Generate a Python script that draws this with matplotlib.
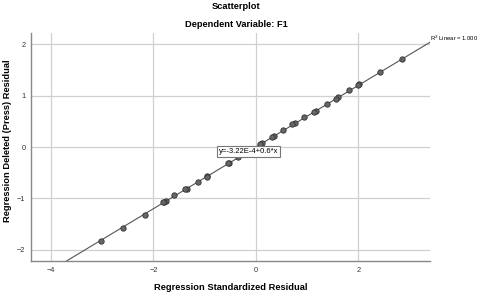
import numpy as np
import matplotlib
matplotlib.use('Agg')
from matplotlib import pyplot as plt

plt.rcParams['font.family'] = ['Liberation Sans', 'DejaVu Sans']

# Regression Standardized Residual (x) vs Regression Deleted (Press) Residual (y)
std_resid = [2.86, 2.43, 2.02, 2.00, 1.82, 1.61, 1.56, 1.38, 1.17, 1.14, 0.94,
             0.76, 0.71, 0.53, 0.35, 0.31, 0.12, 0.08, -0.34, -0.53, -0.54,
             -0.95, -0.96, -1.13, -1.35, -1.38, -1.59, -1.76, -1.80, -1.82,
             -2.17, -2.59, -3.02]
press_resid = [1.72, 1.46, 1.23, 1.21, 1.11, 0.98, 0.93, 0.84, 0.71, 0.69, 0.58,
               0.47, 0.44, 0.33, 0.22, 0.19, 0.08, 0.05, -0.20, -0.31, -0.32,
               -0.56, -0.58, -0.68, -0.81, -0.82, -0.94, -1.05, -1.07, -1.08,
               -1.32, -1.57, -1.82]
fit_intercept = -3.22e-4
fit_slope = 0.6
x_ticks = [-4, -2, 0, 2]
y_ticks = [-2, -1, 0, 1, 2]

fig = plt.figure(figsize=(4.8, 2.94), dpi=100)
ax = fig.add_axes([0.0646, 0.112, 0.8314, 0.776])
xlim = (-4.39, 3.40)
ylim = (-2.22, 2.22)

ax.set_axisbelow(True)
ax.grid(True, color='#d0d0d0', lw=0.9)

xs = np.array(xlim)
ax.plot(xs, fit_intercept + fit_slope * xs, color='#555555', lw=0.8, zorder=2)
ax.scatter(std_resid, press_resid, s=15, facecolor='#666666', edgecolor='#333333',
           linewidth=0.6, zorder=3)

ax.set_xlim(xlim)
ax.set_ylim(ylim)
ax.set_xticks(x_ticks)
ax.set_yticks(y_ticks)
ax.tick_params(length=0, labelsize=5.3, colors='#333333', pad=4)
for s in ['top', 'right']:
    ax.spines[s].set_visible(False)
for s in ['left', 'bottom']:
    ax.spines[s].set_color('#888888')
    ax.spines[s].set_linewidth(1.0)

ax.text(-0.72, -0.08, 'y=-3.22E-4+0.6*x', fontsize=5.5, va='center', ha='left',
        bbox=dict(boxstyle='square,pad=0.25', facecolor='white', edgecolor='#777777', lw=0.8),
        zorder=4)
ax.text(3.40, 2.12, 'R$^2$ Linear = 1.000', fontsize=4.2, va='center', ha='left',
        clip_on=False)

ax.set_xlabel('Regression Standardized Residual', fontsize=6.7, fontweight='bold', labelpad=7)
ax.set_ylabel('Regression Deleted (Press) Residual', fontsize=6.7, fontweight='bold')
ax.yaxis.set_label_coords(-0.047, 0.526)

fig.text(0.492, 0.977, 'Scatterplot', fontsize=6.7, fontweight='bold', ha='center', va='center')
fig.text(0.492, 0.915, 'Dependent Variable: F1', fontsize=6.7, fontweight='bold', ha='center', va='center')

fig.savefig('out.png', dpi=100)
